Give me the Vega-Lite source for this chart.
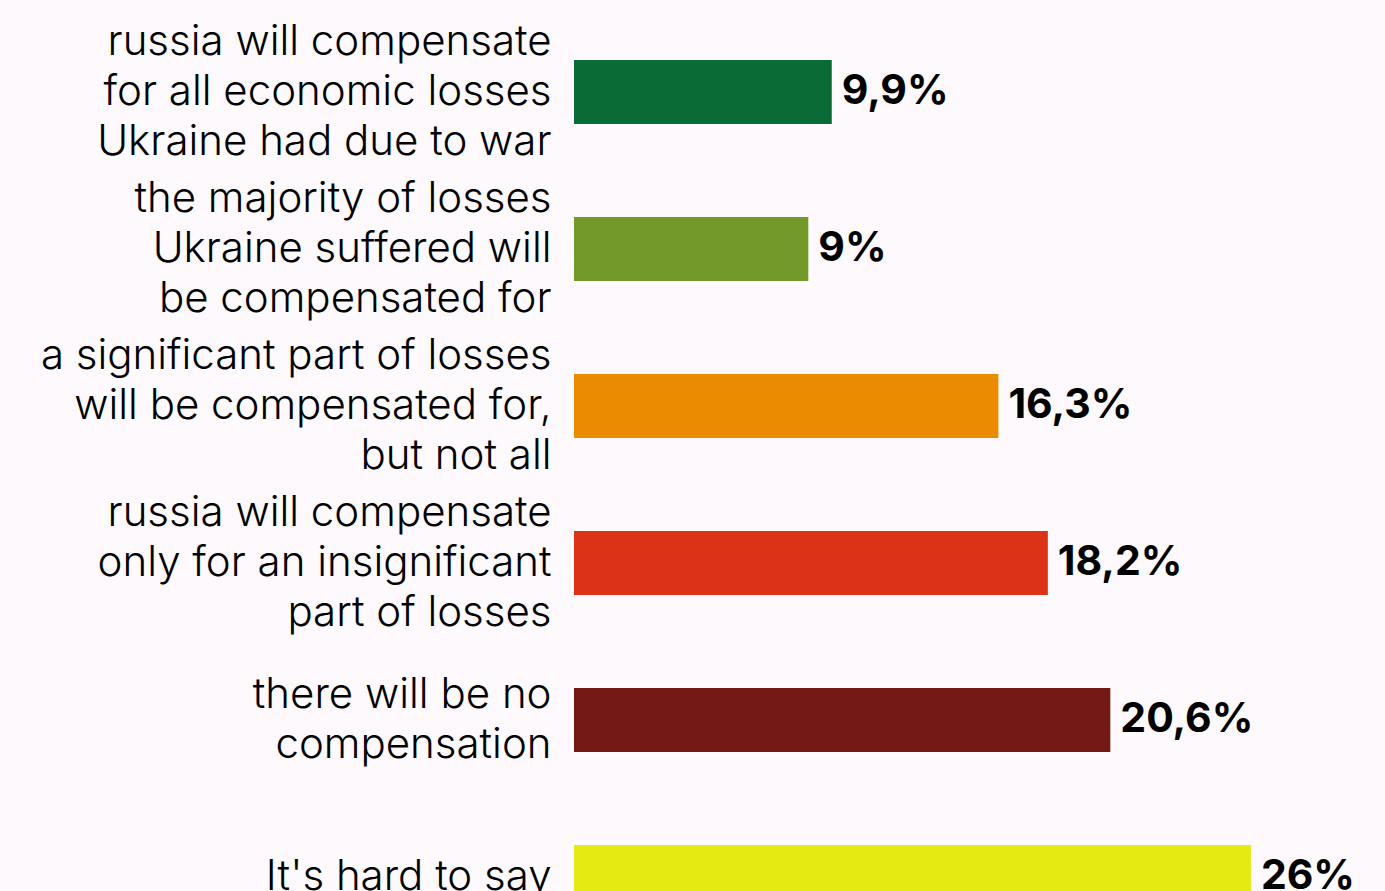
{
  "$schema": "https://vega.github.io/schema/vega-lite/v6.json",
  "width": 811,
  "height": 891,
  "padding": {"left": 574, "top": 0, "right": 0, "bottom": 0},
  "autosize": {"type": "none"},
  "background": "#fdf9fc",
  "config": {"view": {"stroke": null}, "font": "Inter"},
  "data": {
    "values": [
      {"answer": "russia will compensate|for all economic losses|Ukraine had due to war", "value": 9.9, "label": "9,9%", "color": "c1"},
      {"answer": "the majority of losses|Ukraine suffered will|be compensated for", "value": 9.0, "label": "9%", "color": "c2"},
      {"answer": "a significant part of losses|will be compensated for,|but not all", "value": 16.3, "label": "16,3%", "color": "c3"},
      {"answer": "russia will compensate|only for an insignificant|part of losses", "value": 18.2, "label": "18,2%", "color": "c4"},
      {"answer": "there will be no|compensation", "value": 20.6, "label": "20,6%", "color": "c5"},
      {"answer": "It's hard to say", "value": 26.0, "label": "26%", "color": "c6"}
    ]
  },
  "encoding": {
    "y": {
      "field": "answer",
      "type": "nominal",
      "sort": null,
      "scale": {"range": [0, 968.9], "paddingInner": 0.5924, "paddingOuter": 0.382},
      "axis": {
        "title": null,
        "domain": false,
        "ticks": false,
        "labelExpr": "split(datum.value, '|')",
        "labelFont": "Inter",
        "labelFontWeight": 300,
        "labelFontSize": 42,
        "labelLineHeight": 50,
        "labelColor": "#000000",
        "labelPadding": 23,
        "labelAlign": "right",
        "labelBaseline": "middle",
        "labelLimit": 0,
        "labelOffset": {
          "condition": [
            {"test": "length(split(datum.value, '|')) == 3", "value": -50},
            {"test": "length(split(datum.value, '|')) == 2", "value": -25}
          ],
          "value": 0
        },
        "minExtent": 574,
        "maxExtent": 574
      }
    },
    "x": {
      "field": "value",
      "type": "quantitative",
      "scale": {"domain": [0, 31.15], "nice": false, "zero": true},
      "axis": null
    }
  },
  "layer": [
    {
      "mark": {"type": "bar"},
      "encoding": {
        "color": {
          "field": "color",
          "type": "nominal",
          "scale": {
            "domain": ["c1", "c2", "c3", "c4", "c5", "c6"],
            "range": ["#0a6b37", "#739a28", "#eb8c00", "#dc3318", "#731815", "#e5ea13"]
          },
          "legend": null
        }
      }
    },
    {
      "mark": {"type": "text", "align": "left", "baseline": "middle", "dx": 10, "font": "Inter", "fontWeight": 700, "fontSize": 41, "color": "#000000"},
      "encoding": {"text": {"field": "label"}}
    }
  ]
}
